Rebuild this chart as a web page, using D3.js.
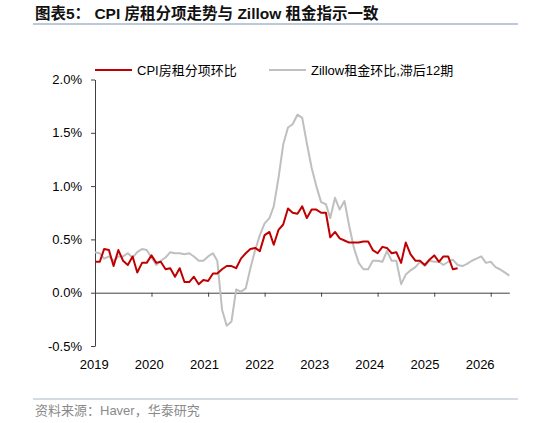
<!DOCTYPE html>
<html>
<head>
<meta charset="utf-8">
<script src="https://cdn.jsdelivr.net/npm/d3@7"></script>
<style>
body { margin: 0; background: #fff; }
text { font-family: "Liberation Sans", Arial, "Noto Sans CJK SC", sans-serif; }
</style>
</head>
<body>
<script>
// monthly series, starting Jan 2019
var startMonth = new Date(2019, 0, 1);

var cpiRent = [
  0.29, 0.29, 0.41, 0.40, 0.25, 0.40, 0.30, 0.26, 0.34, 0.19, 0.28, 0.28,
  0.35, 0.28, 0.29, 0.22, 0.23, 0.15, 0.23, 0.10, 0.10, 0.15, 0.08, 0.12,
  0.11, 0.18, 0.18, 0.22, 0.25, 0.25, 0.23, 0.32, 0.37, 0.41, 0.42, 0.39,
  0.54, 0.57, 0.45, 0.59, 0.64, 0.79, 0.75, 0.74, 0.81, 0.70, 0.78, 0.78,
  0.75, 0.75, 0.52, 0.57, 0.51, 0.49, 0.47, 0.47, 0.47, 0.48, 0.48, 0.40,
  0.37, 0.43, 0.42, 0.37, 0.38, 0.28, 0.47, 0.36, 0.30, 0.30, 0.26, 0.31,
  0.35, 0.29, 0.34, 0.34, 0.22, 0.23
];

var zillowLag12 = [
  0.38, 0.37, 0.32, 0.34, 0.30, 0.34, 0.34, 0.37, 0.33, 0.38, 0.41, 0.40,
  0.33, 0.26, 0.30, 0.33, 0.38, 0.37, 0.37, 0.36, 0.37, 0.34, 0.30, 0.30,
  0.34, 0.37, 0.30, -0.16, -0.31, -0.27, 0.03, 0.01, 0.04, 0.23, 0.40, 0.54,
  0.65, 0.70, 0.81, 1.08, 1.39, 1.55, 1.58, 1.67, 1.64, 1.40, 1.17, 1.00,
  0.85, 0.83, 0.70, 0.89, 0.78, 0.86, 0.63, 0.42, 0.28, 0.22, 0.22, 0.30,
  0.30, 0.29, 0.39, 0.30, 0.30, 0.08, 0.17, 0.21, 0.24, 0.29, 0.25, 0.30,
  0.29, 0.29, 0.26, 0.29, 0.31, 0.26, 0.25, 0.27, 0.30, 0.32, 0.34, 0.28,
  0.29, 0.24, 0.22, 0.19, 0.16
];

var yTicks = [-0.5, 0, 0.5, 1.0, 1.5, 2.0];
var seriesNames = ["CPI房租分项环比", "Zillow租金环比,滞后12期"];
var seriesColors = ["#c00000", "#bfbfbf"];

var width = 534, height = 423;

const svg = d3.select("body").append("svg").attr("width", width).attr("height", height);

const x = d3.scaleTime().domain([startMonth, new Date(2026, 4, 1)]).range([95, 509.3]);
const y = d3.scaleLinear().domain([-0.5, 2.0]).range([346, 79.5]);

// title
svg.append("text").attr("x", 35).attr("y", 19)
    .style("font-size", "15.5px").style("font-weight", "bold").attr("fill", "#111")
    .text("图表5：  CPI 房租分项走势与 Zillow 租金指示一致");
svg.append("line").attr("x1", 33).attr("x2", 518).attr("y1", 24).attr("y2", 24)
    .attr("stroke", "#a8b7ca").attr("stroke-width", 1.5);

// y axis
const yAxis = svg.append("g").attr("transform", "translate(95,0)")
    .call(d3.axisLeft(y).tickValues(yTicks).tickFormat(d => d.toFixed(1) + "%")
        .tickSize(4).tickSizeOuter(0).tickPadding(9));
yAxis.selectAll("text").style("font-size", "13px").attr("fill", "#000");
yAxis.selectAll("line, path").attr("stroke", "#404040");

// x axis on the zero line, labels pushed below the plot
const xAxis = svg.append("g").attr("transform", "translate(0," + y(0) + ")")
    .call(d3.axisBottom(x).ticks(d3.timeYear.every(1)).tickFormat(d3.timeFormat("%Y"))
        .tickSize(4).tickSizeOuter(0));
xAxis.selectAll("line, path").attr("stroke", "#404040");
xAxis.selectAll("text")
    .style("font-size", "13px").attr("fill", "#000")
    .attr("y", y(-0.5) - y(0) + 18).attr("dy", "0.35em")
    .attr("x", (d, i) => -1.3 - 1.4 * i);

// lines
const line = d3.line().x((d, i) => x(d3.timeMonth.offset(startMonth, i))).y(d => y(d));

svg.append("path").datum(zillowLag12).attr("d", line)
    .attr("fill", "none").attr("stroke", seriesColors[1]).attr("stroke-width", 2)
    .attr("stroke-linejoin", "round");
svg.append("path").datum(cpiRent).attr("d", line)
    .attr("fill", "none").attr("stroke", seriesColors[0]).attr("stroke-width", 2)
    .attr("stroke-linejoin", "round");

// legend
const legendX = [95, 269];
const legend = svg.selectAll(".legend").data(seriesNames).enter().append("g")
    .attr("class", "legend")
    .attr("transform", (d, i) => "translate(" + legendX[i] + ",70)");
legend.append("line").attr("x1", 0).attr("x2", 37)
    .attr("stroke", (d, i) => seriesColors[i]).attr("stroke-width", 2);
legend.append("text").attr("x", 42).attr("dy", "0.35em")
    .style("font-size", "13px").attr("fill", "#000").text(d => d);

// source
svg.append("line").attr("x1", 33).attr("x2", 518).attr("y1", 399).attr("y2", 399)
    .attr("stroke", "#a8b7ca").attr("stroke-width", 1);
svg.append("text").attr("x", 35).attr("y", 410).attr("dy", "0.35em")
    .style("font-size", "13px").attr("fill", "#8a8a8a")
    .text("资料来源：Haver，华泰研究");
</script>
</body>
</html>
